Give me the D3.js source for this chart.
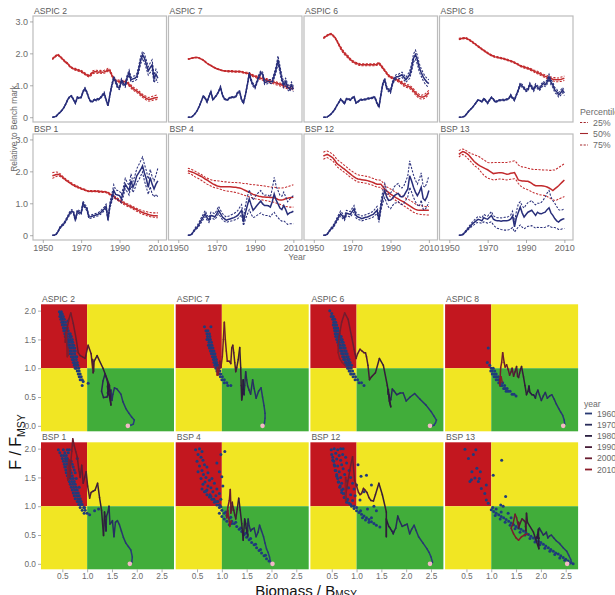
<!DOCTYPE html>
<html><head><meta charset="utf-8">
<script src="https://cdn.jsdelivr.net/npm/d3@7"></script>
<style>body{margin:0;background:#fff}svg{display:block;font-family:"Liberation Sans",Arial,Helvetica,sans-serif}</style>
</head><body><svg id="c" width="615" height="595"></svg>
<script>
// ---------------- DATA ----------------
const years=[1955,1956,1957,1958,1959,1960,1961,1962,1963,1964,1965,1966,1967,1968,1969,1970,1971,1972,1973,1974,1975,1976,1977,1978,1979,1980,1981,1982,1983,1984,1985,1986,1987,1988,1989,1990,1991,1992,1993,1994,1995,1996,1997,1998,1999,2000,2001,2002,2003,2004,2005,2006,2007,2008,2009,2010];
const panelNames=["ASPIC 2","ASPIC 7","ASPIC 6","ASPIC 8","BSP 1","BSP 4","BSP 12","BSP 13"];
const percentiles=["25%","50%","75%"];
const legendYears=[1960,1970,1980,1990,2000,2010];
const topYTicks=[0,1,2,3];
const topXTicks=[1950,1970,1990,2010];
const botXTicks=[0.5,1.0,1.5,2.0,2.5];
const botYTicks=[0,0.5,1.0,1.5,2.0];

// ASPIC 2
const b50_A2=[1.82,1.88,1.93,1.95,1.90, 1.84,1.78,1.72,1.68,1.60,1.55,1.52,1.50,1.48,1.46, 1.44,1.40,1.36,1.32,1.29,1.33,1.40,1.42,1.42,1.41, 1.42,1.41,1.42,1.44,1.48,1.45,1.32,1.20,1.14,1.13, 1.12,1.11,1.12,1.11,1.08,1.02,0.96,0.90,0.86,0.82, 0.78,0.72,0.67,0.63,0.59,0.56,0.56,0.58,0.60,0.61,0.62];
const b25_A2=[1.80,1.86,1.91,1.93,1.88, 1.82,1.76,1.70,1.66,1.58,1.53,1.50,1.47,1.45,1.43, 1.41,1.37,1.33,1.29,1.26,1.29,1.36,1.38,1.38,1.37, 1.38,1.37,1.38,1.40,1.44,1.41,1.28,1.16,1.10,1.09, 1.08,1.07,1.08,1.06,1.03,0.97,0.91,0.85,0.81,0.77, 0.73,0.67,0.62,0.58,0.54,0.51,0.51,0.52,0.54,0.55,0.56];
const b75_A2=[1.84,1.90,1.95,1.97,1.92, 1.86,1.80,1.74,1.70,1.62,1.57,1.54,1.53,1.51,1.49, 1.47,1.43,1.39,1.35,1.32,1.37,1.45,1.47,1.47,1.46, 1.47,1.46,1.47,1.49,1.53,1.50,1.36,1.24,1.18,1.17, 1.16,1.15,1.16,1.16,1.13,1.07,1.01,0.95,0.91,0.87, 0.83,0.77,0.72,0.68,0.65,0.62,0.63,0.65,0.67,0.69,0.70];
const f50_A2=[0.00,0.01,0.03,0.10,0.15, 0.22,0.30,0.42,0.55,0.64,0.66,0.55,0.44,0.62,0.60, 0.62,0.80,0.90,0.78,0.60,0.49,0.50,0.55,0.54,0.57, 0.60,0.68,0.75,0.55,0.36,0.70,1.00,1.22,1.12,0.95, 0.92,1.15,1.05,1.00,1.25,1.40,1.17,1.20,1.22,1.27, 1.50,1.78,1.96,1.85,1.65,1.45,1.55,1.64,1.20,1.35,1.22];
const f25_A2=[0.00,0.01,0.02,0.09,0.14, 0.21,0.29,0.40,0.53,0.62,0.64,0.53,0.42,0.60,0.58, 0.60,0.77,0.87,0.75,0.58,0.47,0.48,0.53,0.51,0.54, 0.57,0.65,0.71,0.52,0.34,0.66,0.95,1.16,1.06,0.90, 0.87,1.09,0.99,0.94,1.18,1.32,1.10,1.12,1.14,1.18, 1.40,1.66,1.84,1.72,1.52,1.32,1.40,1.48,1.08,1.20,1.08];
const f75_A2=[0.00,0.01,0.04,0.11,0.16, 0.23,0.31,0.44,0.57,0.66,0.68,0.57,0.46,0.64,0.62, 0.64,0.83,0.93,0.81,0.62,0.51,0.52,0.57,0.57,0.60, 0.63,0.71,0.79,0.58,0.38,0.74,1.05,1.28,1.18,1.00, 0.97,1.21,1.11,1.06,1.32,1.48,1.24,1.28,1.30,1.36, 1.60,1.90,2.06,1.98,1.78,1.58,1.70,1.80,1.32,1.50,1.36];
// ASPIC 7
const b50_A7=[1.82,1.83,1.85,1.86,1.87, 1.87,1.85,1.82,1.79,1.74,1.69,1.65,1.62,1.58,1.55, 1.52,1.50,1.48,1.46,1.45,1.45,1.44,1.44,1.44,1.43, 1.43,1.43,1.43,1.42,1.40,1.39,1.38,1.36,1.33,1.30, 1.28,1.26,1.24,1.22,1.20,1.18,1.17,1.15,1.13,1.11, 1.09,1.07,1.05,1.03,1.01,0.98,0.96,0.94,0.92,0.91,0.90];
const b25_A7=[1.81,1.82,1.84,1.85,1.86, 1.86,1.84,1.81,1.78,1.73,1.68,1.64,1.61,1.57,1.54, 1.51,1.49,1.47,1.45,1.44,1.43,1.42,1.42,1.42,1.41, 1.41,1.41,1.41,1.40,1.38,1.37,1.35,1.33,1.30,1.27, 1.25,1.22,1.20,1.18,1.16,1.14,1.12,1.10,1.08,1.06, 1.04,1.02,1.00,0.98,0.96,0.93,0.91,0.89,0.87,0.86,0.85];
const b75_A7=[1.83,1.84,1.86,1.87,1.88, 1.88,1.86,1.83,1.80,1.75,1.70,1.66,1.63,1.59,1.56, 1.53,1.51,1.49,1.47,1.46,1.46,1.46,1.46,1.46,1.45, 1.45,1.45,1.45,1.44,1.42,1.41,1.41,1.39,1.36,1.33, 1.31,1.29,1.28,1.26,1.24,1.22,1.21,1.19,1.17,1.15, 1.13,1.11,1.09,1.07,1.05,1.03,1.01,0.99,0.97,0.96,0.95];
const f50_A7=[0.00,0.00,0.01,0.06,0.13, 0.22,0.35,0.50,0.66,0.60,0.48,0.65,0.80,0.55,0.62, 0.69,0.80,0.94,0.70,0.58,0.54,0.56,0.62,0.62,0.63, 0.64,0.78,0.80,0.55,0.45,0.70,1.01,1.36,1.15,1.01, 0.94,1.10,1.27,1.40,1.35,1.08,1.10,1.12,1.12,1.12, 1.30,1.50,1.80,1.50,1.20,1.01,1.12,0.95,0.88,1.01,0.88];
const f25_A7=[0.00,0.00,0.01,0.05,0.12, 0.21,0.34,0.49,0.64,0.58,0.46,0.63,0.78,0.53,0.60, 0.67,0.78,0.91,0.68,0.56,0.52,0.54,0.60,0.60,0.61, 0.62,0.75,0.77,0.52,0.42,0.67,0.97,1.31,1.10,0.96, 0.89,1.05,1.21,1.34,1.29,1.02,1.04,1.06,1.06,1.05, 1.22,1.41,1.68,1.39,1.10,0.92,1.02,0.86,0.80,0.92,0.80];
const f75_A7=[0.00,0.00,0.01,0.07,0.14, 0.23,0.36,0.51,0.68,0.62,0.50,0.67,0.82,0.57,0.64, 0.71,0.82,0.97,0.72,0.60,0.56,0.58,0.64,0.64,0.65, 0.66,0.81,0.83,0.58,0.48,0.73,1.05,1.41,1.20,1.06, 0.99,1.15,1.33,1.46,1.41,1.14,1.16,1.18,1.18,1.19, 1.38,1.60,1.92,1.61,1.30,1.10,1.22,1.04,0.96,1.10,0.96];
// ASPIC 6
const b50_A6=[2.48,2.52,2.56,2.59,2.61, 2.56,2.50,2.40,2.28,2.17,2.08,2.00,1.94,1.88,1.81, 1.76,1.72,1.69,1.67,1.65,1.64,1.64,1.64,1.64,1.64, 1.64,1.64,1.64,1.66,1.69,1.62,1.54,1.46,1.38,1.30, 1.26,1.23,1.20,1.18,1.15,1.11,1.07,1.02,0.99,0.97, 0.95,0.90,0.83,0.76,0.70,0.65,0.63,0.63,0.66,0.71,0.77];
const b25_A6=[2.46,2.50,2.54,2.57,2.59, 2.54,2.48,2.38,2.25,2.13,2.04,1.96,1.90,1.84,1.78, 1.73,1.69,1.66,1.64,1.62,1.61,1.61,1.61,1.61,1.61, 1.61,1.61,1.61,1.63,1.66,1.59,1.51,1.43,1.35,1.27, 1.23,1.20,1.17,1.14,1.11,1.07,1.03,0.97,0.94,0.92, 0.90,0.85,0.77,0.70,0.64,0.59,0.57,0.57,0.60,0.65,0.71];
const b75_A6=[2.50,2.54,2.58,2.61,2.63, 2.58,2.52,2.42,2.31,2.21,2.12,2.04,1.98,1.92,1.84, 1.79,1.75,1.72,1.70,1.68,1.67,1.67,1.67,1.67,1.67, 1.67,1.67,1.67,1.69,1.72,1.65,1.57,1.49,1.41,1.33, 1.29,1.26,1.23,1.22,1.19,1.15,1.11,1.07,1.04,1.02, 1.00,0.95,0.89,0.82,0.76,0.71,0.69,0.70,0.73,0.78,0.84];
const f50_A6=[0.00,0.00,0.01,0.05,0.10, 0.17,0.25,0.36,0.46,0.56,0.50,0.43,0.57,0.57,0.54, 0.60,0.64,0.45,0.48,0.54,0.55,0.55,0.56,0.58,0.59, 0.59,0.63,0.60,0.43,0.33,0.70,1.05,1.17,0.92,0.85, 0.80,1.05,1.20,1.27,1.27,1.30,1.33,1.25,1.17,1.25, 1.33,1.55,1.85,1.96,1.80,1.55,1.40,1.27,1.17,1.10,1.05];
const f25_A6=[0.00,0.00,0.01,0.04,0.09, 0.16,0.24,0.35,0.45,0.54,0.48,0.41,0.55,0.55,0.52, 0.58,0.62,0.43,0.46,0.52,0.53,0.53,0.54,0.56,0.57, 0.57,0.60,0.57,0.40,0.30,0.66,1.00,1.12,0.87,0.80, 0.75,0.99,1.14,1.20,1.20,1.22,1.25,1.17,1.09,1.16, 1.22,1.43,1.72,1.82,1.66,1.42,1.28,1.15,1.05,0.98,0.93];
const f75_A6=[0.00,0.00,0.01,0.06,0.11, 0.18,0.26,0.37,0.47,0.58,0.52,0.45,0.59,0.59,0.56, 0.62,0.66,0.47,0.50,0.56,0.57,0.57,0.58,0.60,0.61, 0.61,0.66,0.63,0.46,0.36,0.74,1.10,1.22,0.97,0.90, 0.85,1.11,1.26,1.34,1.34,1.38,1.41,1.33,1.25,1.34, 1.44,1.67,1.98,2.10,1.94,1.68,1.52,1.39,1.29,1.22,1.17];
// ASPIC 8
const b50_A8=[2.45,2.46,2.47,2.48,2.47, 2.44,2.40,2.36,2.31,2.27,2.22,2.18,2.13,2.09,2.05, 2.01,1.97,1.94,1.91,1.89,1.88,1.86,1.85,1.84,1.82, 1.80,1.78,1.76,1.74,1.71,1.68,1.65,1.61,1.59,1.57, 1.55,1.53,1.51,1.48,1.45,1.42,1.40,1.37,1.34,1.31, 1.28,1.26,1.23,1.21,1.19,1.18,1.17,1.17,1.18,1.20,1.22];
const b25_A8=[2.43,2.44,2.45,2.46,2.45, 2.42,2.38,2.34,2.29,2.25,2.20,2.16,2.11,2.07,2.03, 1.99,1.95,1.92,1.89,1.87,1.86,1.84,1.83,1.82,1.80, 1.78,1.76,1.74,1.72,1.69,1.66,1.63,1.59,1.56,1.54, 1.52,1.50,1.48,1.45,1.42,1.38,1.36,1.33,1.30,1.27, 1.24,1.21,1.18,1.16,1.14,1.12,1.11,1.11,1.12,1.13,1.15];
const b75_A8=[2.47,2.48,2.49,2.50,2.49, 2.46,2.42,2.38,2.33,2.29,2.24,2.20,2.15,2.11,2.07, 2.03,1.99,1.96,1.93,1.91,1.90,1.88,1.87,1.86,1.84, 1.82,1.80,1.78,1.76,1.73,1.70,1.67,1.63,1.62,1.60, 1.58,1.56,1.54,1.51,1.48,1.46,1.44,1.41,1.38,1.35, 1.32,1.31,1.28,1.26,1.24,1.24,1.23,1.23,1.25,1.27,1.29];
const f50_A8=[0.00,0.00,0.01,0.03,0.10, 0.18,0.24,0.30,0.38,0.46,0.54,0.52,0.48,0.58,0.52, 0.44,0.54,0.62,0.56,0.48,0.50,0.53,0.54,0.54,0.54, 0.56,0.58,0.69,0.60,0.54,0.70,0.85,1.03,0.98,0.91, 0.84,0.86,1.03,0.94,0.86,1.00,0.94,0.88,0.98,1.06, 1.02,1.10,1.27,1.10,1.01,0.85,0.80,0.70,0.76,0.85,0.76];
const f25_A8=[0.00,0.00,0.01,0.02,0.09, 0.17,0.23,0.29,0.37,0.45,0.53,0.51,0.47,0.56,0.50, 0.42,0.52,0.60,0.54,0.46,0.48,0.51,0.52,0.52,0.52, 0.54,0.56,0.66,0.57,0.51,0.67,0.81,0.98,0.93,0.87, 0.80,0.82,0.98,0.89,0.81,0.95,0.89,0.83,0.92,1.00, 0.96,1.03,1.19,1.02,0.93,0.77,0.72,0.63,0.68,0.77,0.68];
const f75_A8=[0.00,0.00,0.01,0.04,0.11, 0.19,0.25,0.31,0.39,0.47,0.55,0.53,0.49,0.60,0.54, 0.46,0.56,0.64,0.58,0.50,0.52,0.55,0.56,0.56,0.56, 0.58,0.60,0.72,0.63,0.57,0.73,0.89,1.08,1.03,0.95, 0.88,0.90,1.08,0.99,0.91,1.05,0.99,0.93,1.04,1.12, 1.08,1.17,1.35,1.18,1.09,0.93,0.88,0.77,0.84,0.93,0.84];
// BSP 1
const b50_B1=[1.86,1.88,1.90,1.91,1.88, 1.83,1.78,1.73,1.69,1.65,1.61,1.57,1.54,1.51,1.49, 1.46,1.44,1.42,1.39,1.38,1.38,1.38,1.38,1.38,1.37, 1.37,1.36,1.36,1.35,1.33,1.29,1.25,1.21,1.16,1.12, 1.08,1.05,1.01,0.98,0.95,0.92,0.89,0.86,0.83,0.80, 0.77,0.74,0.71,0.69,0.67,0.65,0.63,0.62,0.61,0.61,0.60];
const b25_B1=[1.78,1.81,1.84,1.86,1.84, 1.80,1.76,1.71,1.67,1.63,1.59,1.55,1.52,1.49,1.47, 1.44,1.42,1.40,1.37,1.36,1.36,1.36,1.36,1.36,1.35, 1.35,1.34,1.34,1.33,1.31,1.26,1.22,1.18,1.13,1.09, 1.05,1.01,0.97,0.94,0.91,0.88,0.85,0.82,0.78,0.75, 0.72,0.69,0.66,0.64,0.62,0.60,0.58,0.57,0.56,0.55,0.55];
const b75_B1=[1.96,1.97,1.98,1.97,1.93, 1.87,1.81,1.76,1.72,1.68,1.64,1.60,1.57,1.54,1.51, 1.48,1.46,1.44,1.41,1.40,1.40,1.40,1.40,1.40,1.39, 1.39,1.38,1.38,1.37,1.35,1.31,1.28,1.24,1.20,1.16, 1.12,1.09,1.05,1.02,0.99,0.96,0.93,0.90,0.87,0.84, 0.82,0.79,0.77,0.75,0.74,0.72,0.71,0.70,0.70,0.70,0.70];
const f50_B1=[0.00,0.00,0.03,0.12,0.24, 0.30,0.36,0.46,0.57,0.68,0.75,0.72,0.47,0.75,0.72, 0.69,1.00,0.90,0.83,0.57,0.58,0.60,0.62,0.64,0.66, 0.70,0.76,0.82,0.90,0.49,0.93,1.15,1.40,1.28,1.26, 1.24,1.14,1.35,1.60,1.50,1.40,1.71,1.50,1.65,1.86, 1.95,2.05,2.17,1.95,1.76,1.50,1.81,1.60,1.45,1.60,1.70];
const f25_B1=[0.00,0.00,0.02,0.10,0.21, 0.27,0.33,0.42,0.53,0.63,0.70,0.67,0.43,0.70,0.67, 0.64,0.94,0.84,0.77,0.52,0.53,0.55,0.57,0.59,0.61, 0.65,0.70,0.76,0.83,0.44,0.85,1.05,1.26,1.15,1.12, 1.08,1.02,1.22,1.45,1.36,1.26,1.54,1.34,1.46,1.66, 1.72,1.85,1.98,1.70,1.50,1.28,1.52,1.30,1.20,1.28,1.20];
const f75_B1=[0.00,0.00,0.04,0.14,0.27, 0.33,0.39,0.50,0.61,0.73,0.80,0.77,0.51,0.80,0.77, 0.74,1.07,0.96,0.89,0.62,0.63,0.65,0.67,0.69,0.71, 0.76,0.82,0.88,0.97,0.55,1.02,1.28,1.58,1.42,1.40, 1.38,1.28,1.50,1.78,1.66,1.56,1.92,1.68,1.86,2.08, 2.20,2.32,2.45,2.22,2.02,1.76,2.06,1.84,1.70,1.88,2.10];
// BSP 4
const b50_B4=[2.02,2.00,1.98,1.96,1.93, 1.90,1.87,1.84,1.80,1.76,1.73,1.69,1.65,1.61,1.58, 1.55,1.53,1.52,1.52,1.52,1.52,1.52,1.52,1.51,1.50, 1.50,1.49,1.48,1.46,1.43,1.40,1.37,1.34,1.31,1.28, 1.26,1.24,1.22,1.21,1.20,1.20,1.19,1.19,1.18,1.18, 1.17,1.15,1.12,1.10,1.10,1.12,1.14,1.16,1.17,1.18,1.19];
const b25_B4=[1.95,1.93,1.90,1.86,1.82, 1.79,1.76,1.72,1.68,1.64,1.60,1.57,1.54,1.51,1.49, 1.48,1.46,1.44,1.42,1.40,1.39,1.38,1.37,1.36,1.35, 1.34,1.32,1.30,1.28,1.26,1.24,1.22,1.20,1.18,1.16, 1.14,1.13,1.12,1.11,1.10,1.09,1.08,1.07,1.05,1.04, 1.03,1.01,0.99,0.97,0.94,0.91,0.90,0.89,0.88,0.88,0.88];
const b75_B4=[2.10,2.08,2.06,2.03,2.00, 1.96,1.93,1.90,1.86,1.82,1.79,1.76,1.74,1.72,1.71, 1.71,1.70,1.69,1.68,1.67,1.67,1.66,1.66,1.65,1.65, 1.65,1.64,1.64,1.63,1.62,1.62,1.61,1.60,1.59,1.58, 1.58,1.57,1.56,1.56,1.55,1.54,1.53,1.52,1.51,1.50, 1.50,1.49,1.48,1.48,1.48,1.49,1.50,1.52,1.54,1.56,1.58];
const f50_B4=[0.00,0.00,0.03,0.12,0.20, 0.26,0.36,0.47,0.57,0.67,0.55,0.47,0.62,0.60,0.57, 0.66,0.78,0.68,0.57,0.52,0.47,0.49,0.51,0.53,0.55, 0.58,0.62,0.70,0.78,0.41,0.70,0.93,1.14,0.95,0.78, 0.85,0.93,1.00,1.07,0.98,0.93,0.93,0.92,0.88,1.05, 1.29,1.10,0.98,0.85,0.80,0.93,0.80,0.65,0.70,0.72,0.75];
const f25_B4=[0.00,0.00,0.02,0.10,0.17, 0.22,0.30,0.40,0.49,0.58,0.47,0.40,0.53,0.52,0.49, 0.57,0.67,0.58,0.49,0.44,0.40,0.42,0.44,0.45,0.47, 0.49,0.52,0.58,0.64,0.30,0.50,0.65,0.80,0.66,0.55, 0.58,0.62,0.66,0.70,0.65,0.62,0.62,0.62,0.58,0.66, 0.72,0.62,0.55,0.48,0.44,0.45,0.40,0.34,0.36,0.36,0.36];
const f75_B4=[0.00,0.00,0.04,0.15,0.25, 0.32,0.43,0.55,0.66,0.77,0.64,0.55,0.72,0.70,0.67, 0.77,0.90,0.79,0.68,0.62,0.57,0.59,0.62,0.65,0.68, 0.72,0.77,0.87,0.96,0.55,0.92,1.20,1.42,1.25,1.10, 1.20,1.28,1.35,1.40,1.30,1.25,1.26,1.25,1.20,1.45, 1.81,1.55,1.40,1.25,1.22,1.35,1.20,1.05,1.12,1.18,1.24];
// BSP 12
const b50_B12=[2.48,2.51,2.53,2.50,2.46, 2.42,2.34,2.25,2.20,2.16,2.11,2.07,2.02,1.97,1.92, 1.87,1.83,1.79,1.76,1.75,1.74,1.73,1.72,1.71,1.69, 1.67,1.65,1.62,1.60,1.60,1.60,1.52,1.45,1.38,1.34, 1.29,1.25,1.21,1.17,1.14,1.10,1.07,1.04,1.00,0.96, 0.92,0.88,0.84,0.81,0.79,0.78,0.78,0.78,0.78,0.78,0.78];
const b25_B12=[2.38,2.41,2.43,2.40,2.36, 2.32,2.24,2.15,2.10,2.06,2.01,1.97,1.92,1.87,1.82, 1.78,1.74,1.70,1.67,1.66,1.65,1.64,1.63,1.62,1.60, 1.58,1.56,1.53,1.51,1.50,1.50,1.42,1.35,1.29,1.25, 1.20,1.16,1.12,1.08,1.04,1.00,0.96,0.92,0.88,0.84, 0.80,0.76,0.72,0.69,0.67,0.66,0.65,0.64,0.64,0.63,0.63];
const b75_B12=[2.60,2.63,2.64,2.61,2.57, 2.53,2.46,2.38,2.33,2.29,2.24,2.19,2.14,2.09,2.04, 2.00,1.96,1.92,1.89,1.88,1.87,1.86,1.85,1.84,1.82, 1.80,1.78,1.75,1.73,1.73,1.72,1.65,1.58,1.52,1.48, 1.45,1.41,1.37,1.33,1.30,1.26,1.23,1.19,1.16,1.13, 1.10,1.06,1.02,0.98,0.95,0.93,0.92,0.91,0.90,0.90,0.90];
const f50_B12=[0.00,0.00,0.03,0.12,0.20, 0.26,0.36,0.47,0.58,0.67,0.60,0.52,0.69,0.67,0.65, 0.74,0.83,0.62,0.57,0.55,0.52,0.54,0.56,0.57,0.60, 0.63,0.65,0.72,0.78,0.47,0.90,1.20,1.40,1.20,1.09, 1.10,1.15,1.24,1.28,1.31,1.22,1.20,1.24,1.35,1.45, 1.86,1.70,1.50,1.35,1.24,1.35,1.50,1.15,1.09,1.20,1.40];
const f25_B12=[0.00,0.00,0.02,0.10,0.17, 0.22,0.32,0.42,0.52,0.60,0.53,0.46,0.61,0.59,0.57, 0.65,0.73,0.54,0.50,0.48,0.45,0.47,0.49,0.50,0.52, 0.55,0.57,0.63,0.68,0.40,0.78,1.02,1.18,1.00,0.88, 0.83,0.92,1.00,1.02,1.05,0.98,0.96,1.00,1.10,1.20, 1.50,1.35,1.18,1.05,0.95,0.90,1.10,0.82,0.80,0.90,1.03];
const f75_B12=[0.00,0.00,0.04,0.14,0.23, 0.30,0.41,0.53,0.65,0.76,0.68,0.59,0.78,0.76,0.74, 0.84,0.93,0.71,0.65,0.63,0.60,0.62,0.64,0.66,0.69, 0.72,0.75,0.83,0.90,0.55,1.05,1.38,1.62,1.40,1.28, 1.32,1.40,1.52,1.58,1.62,1.50,1.48,1.55,1.70,1.85, 2.33,2.10,1.88,1.72,1.60,1.75,1.95,1.55,1.50,1.65,1.86];
// BSP 13
const b50_B13=[2.53,2.58,2.62,2.60,2.56, 2.52,2.45,2.38,2.31,2.26,2.21,2.17,2.14,2.11,2.08, 2.05,2.01,1.97,1.93,1.94,1.95,1.96,1.96,1.95,1.93, 1.91,1.92,1.94,1.95,1.96,1.85,1.73,1.71,1.70,1.70, 1.69,1.69,1.66,1.62,1.58,1.55,1.55,1.55,1.55,1.54, 1.53,1.51,1.48,1.44,1.40,1.45,1.50,1.55,1.61,1.67,1.73];
const b25_B13=[2.45,2.50,2.53,2.50,2.44, 2.38,2.32,2.25,2.18,2.14,2.10,2.02,1.95,1.88,1.83, 1.79,1.77,1.75,1.73,1.74,1.75,1.76,1.76,1.75,1.74, 1.73,1.74,1.75,1.76,1.77,1.72,1.62,1.55,1.50,1.47, 1.45,1.42,1.39,1.36,1.33,1.31,1.29,1.27,1.26,1.25, 1.24,1.21,1.18,1.14,1.11,1.09,1.10,1.13,1.16,1.18,1.21];
const b75_B13=[2.65,2.68,2.70,2.68,2.64, 2.60,2.57,2.54,2.52,2.50,2.48,2.44,2.40,2.36,2.32, 2.28,2.27,2.27,2.28,2.28,2.28,2.28,2.28,2.28,2.28, 2.28,2.29,2.30,2.32,2.33,2.28,2.20,2.16,2.14,2.13, 2.12,2.10,2.08,2.07,2.06,2.06,2.06,2.05,2.05,2.04, 2.04,2.04,2.03,2.03,2.04,2.04,2.08,2.12,2.16,2.20,2.24];
const f50_B13=[0.00,0.00,0.02,0.08,0.15, 0.22,0.28,0.35,0.40,0.45,0.50,0.48,0.45,0.55,0.52, 0.50,0.56,0.62,0.50,0.47,0.45,0.45,0.44,0.45,0.45, 0.45,0.47,0.50,0.60,0.26,0.55,0.72,0.88,0.70,0.57, 0.65,0.72,0.75,0.78,0.70,0.62,0.72,0.68,0.67,0.70, 0.72,0.80,0.86,0.70,0.62,0.52,0.45,0.41,0.47,0.50,0.52];
const f25_B13=[0.00,0.00,0.01,0.06,0.12, 0.18,0.23,0.29,0.33,0.38,0.40,0.39,0.37,0.42,0.40, 0.38,0.40,0.42,0.32,0.26,0.22,0.20,0.18,0.17,0.16, 0.16,0.17,0.20,0.24,0.10,0.18,0.26,0.32,0.25,0.20, 0.24,0.28,0.28,0.30,0.26,0.22,0.25,0.24,0.24,0.24, 0.25,0.28,0.30,0.26,0.24,0.24,0.22,0.18,0.18,0.20,0.21];
const f75_B13=[0.00,0.00,0.03,0.10,0.18, 0.26,0.33,0.41,0.47,0.53,0.59,0.57,0.54,0.65,0.62, 0.60,0.67,0.74,0.61,0.57,0.55,0.55,0.54,0.55,0.56, 0.56,0.59,0.63,0.75,0.40,0.75,0.98,1.05,0.92,0.85, 0.95,1.02,1.05,1.09,1.00,0.95,1.00,1.00,1.03,1.10, 1.20,1.32,1.40,1.20,1.08,1.00,0.90,0.80,0.78,0.80,0.83];

// Final-year estimates (B/Bmsy, F/Fmsy) for the Kobe panels
const cloud_A2=[[0.44,1.98],[0.48,1.98],[0.46,1.94],[0.50,1.94],[0.48,1.90],[0.52,1.90],[0.45,1.90],[0.50,1.85],[0.54,1.85],[0.47,1.85],[0.52,1.80],[0.56,1.80],[0.49,1.80],[0.53,1.75],[0.58,1.75],[0.50,1.75],[0.55,1.70],[0.60,1.70],[0.52,1.70],[0.57,1.65],[0.62,1.65],[0.53,1.65],[0.58,1.60],[0.63,1.60],[0.55,1.60],[0.66,1.60],[0.60,1.55],[0.65,1.55],[0.56,1.55],[0.68,1.55],[0.62,1.50],[0.66,1.50],[0.58,1.50],[0.70,1.50],[0.63,1.45],[0.68,1.45],[0.60,1.45],[0.71,1.45],[0.65,1.40],[0.70,1.40],[0.61,1.40],[0.73,1.40],[0.67,1.35],[0.71,1.35],[0.63,1.35],[0.75,1.35],[0.68,1.30],[0.73,1.30],[0.65,1.30],[0.76,1.30],[0.70,1.25],[0.75,1.25],[0.66,1.25],[0.72,1.20],[0.76,1.20],[0.68,1.20],[0.79,1.20],[0.73,1.15],[0.78,1.15],[0.70,1.15],[0.75,1.10],[0.80,1.10],[0.72,1.10],[0.77,1.05],[0.81,1.05],[0.74,1.05],[0.78,1.00],[0.83,1.00],[0.76,1.00],[0.80,0.95],[0.84,0.95],[0.82,0.90],[0.86,0.90],[0.84,0.85],[0.88,0.85],[0.86,0.80],[0.90,0.80],[0.92,0.77],[1.02,0.74],[0.90,0.70],[0.61,1.82]];
const cloud_A7=[[0.65,1.72],[0.78,1.72],[0.68,1.65],[0.72,1.65],[0.70,1.60],[0.75,1.60],[0.71,1.55],[0.76,1.55],[0.73,1.50],[0.77,1.50],[0.70,1.50],[0.74,1.45],[0.79,1.45],[0.76,1.40],[0.80,1.40],[0.73,1.40],[0.78,1.35],[0.82,1.35],[0.75,1.35],[0.80,1.30],[0.84,1.30],[0.77,1.30],[0.82,1.25],[0.86,1.25],[0.79,1.25],[0.84,1.20],[0.87,1.20],[0.81,1.20],[0.85,1.15],[0.89,1.15],[0.83,1.15],[0.87,1.10],[0.90,1.10],[0.84,1.10],[0.89,1.05],[0.92,1.05],[0.86,1.05],[0.90,1.00],[0.94,1.00],[0.88,1.00],[0.92,0.95],[0.96,0.95],[0.90,0.95],[0.95,0.90],[0.98,0.90],[0.97,0.85],[1.01,0.85],[1.00,0.80],[1.05,0.80],[1.05,0.75],[1.10,0.75],[1.12,0.70],[1.18,0.70]];
const cloud_A6=[[0.46,2.00],[0.50,1.95],[0.53,1.90],[0.49,1.90],[0.52,1.85],[0.56,1.85],[0.54,1.80],[0.58,1.80],[0.56,1.75],[0.60,1.75],[0.53,1.75],[0.58,1.70],[0.62,1.70],[0.55,1.70],[0.59,1.65],[0.63,1.65],[0.56,1.65],[0.60,1.60],[0.65,1.60],[0.57,1.60],[0.62,1.55],[0.66,1.55],[0.58,1.55],[0.69,1.55],[0.63,1.50],[0.68,1.50],[0.60,1.50],[0.71,1.50],[0.65,1.45],[0.70,1.45],[0.62,1.45],[0.73,1.45],[0.67,1.40],[0.72,1.40],[0.64,1.40],[0.75,1.40],[0.69,1.35],[0.74,1.35],[0.66,1.35],[0.77,1.35],[0.71,1.30],[0.76,1.30],[0.68,1.30],[0.79,1.30],[0.73,1.25],[0.78,1.25],[0.70,1.25],[0.81,1.25],[0.75,1.20],[0.80,1.20],[0.72,1.20],[0.83,1.20],[0.77,1.15],[0.82,1.15],[0.74,1.15],[0.85,1.15],[0.80,1.10],[0.84,1.10],[0.77,1.10],[0.87,1.10],[0.82,1.05],[0.86,1.05],[0.79,1.05],[0.90,1.05],[0.84,1.00],[0.89,1.00],[0.82,1.00],[0.87,0.95],[0.92,0.95],[0.85,0.95],[0.90,0.90],[0.95,0.90],[0.88,0.90],[0.93,0.85],[0.98,0.85],[0.97,0.80],[1.02,0.80],[1.05,0.75],[1.10,0.75],[1.15,0.70]];
const cloud_A8=[[0.94,1.35],[0.92,1.10],[0.97,1.05],[1.00,1.00],[1.04,1.00],[1.02,0.95],[1.07,0.95],[0.99,0.95],[1.06,0.90],[1.10,0.90],[1.02,0.90],[1.10,0.85],[1.14,0.85],[1.06,0.85],[1.14,0.80],[1.18,0.80],[1.10,0.80],[1.18,0.75],[1.23,0.75],[1.15,0.75],[1.22,0.70],[1.27,0.70],[1.19,0.70],[1.28,0.65],[1.32,0.65],[1.25,0.65],[1.34,0.60],[1.38,0.60],[1.30,0.60],[1.42,0.55],[1.46,0.55],[1.50,0.52]];
const cloud_B1=[[0.42,1.98],[0.52,1.98],[0.60,1.98],[0.64,1.98],[0.45,1.93],[0.55,1.93],[0.62,1.93],[0.48,1.88],[0.58,1.88],[0.53,1.88],[0.50,1.83],[0.60,1.83],[0.56,1.83],[0.80,1.83],[0.52,1.78],[0.62,1.78],[0.57,1.78],[0.68,1.78],[0.54,1.73],[0.63,1.73],[0.59,1.73],[0.70,1.73],[0.55,1.68],[0.65,1.68],[0.60,1.68],[0.72,1.68],[0.57,1.63],[0.66,1.63],[0.62,1.63],[0.74,1.63],[0.58,1.58],[0.68,1.58],[0.63,1.58],[0.76,1.58],[0.60,1.53],[0.70,1.53],[0.65,1.53],[0.62,1.48],[0.72,1.48],[0.67,1.48],[0.78,1.48],[0.64,1.43],[0.74,1.43],[0.69,1.43],[0.66,1.38],[0.76,1.38],[0.71,1.38],[0.68,1.33],[0.78,1.33],[0.73,1.33],[0.84,1.33],[0.70,1.28],[0.80,1.28],[0.75,1.28],[0.72,1.23],[0.82,1.23],[0.77,1.23],[0.74,1.18],[0.84,1.18],[0.79,1.18],[0.76,1.13],[0.86,1.13],[0.81,1.13],[0.80,1.08],[0.88,1.08],[0.84,1.08],[0.83,1.03],[0.90,1.03],[0.87,1.03],[0.86,0.98],[0.93,0.98],[0.95,0.98],[0.90,0.93],[0.96,0.93],[0.94,0.88],[1.00,0.88],[1.05,0.85],[1.23,0.95],[1.15,0.92]];
const cloud_B4=[[0.47,1.98],[0.55,2.00],[0.60,1.95],[0.52,1.90],[0.58,1.85],[0.50,1.78],[0.62,1.80],[0.55,1.70],[0.65,1.72],[0.60,1.62],[0.70,1.68],[0.52,1.60],[0.63,1.55],[0.72,1.58],[0.68,1.50],[0.58,1.48],[0.75,1.45],[0.66,1.42],[0.80,1.48],[0.72,1.35],[0.62,1.38],[0.78,1.32],[0.85,1.40],[0.70,1.28],[0.82,1.25],[0.90,1.30],[0.76,1.20],[0.88,1.18],[0.95,1.22],[0.84,1.12],[0.92,1.08],[0.98,1.12],[0.95,1.02],[1.06,1.95],[1.00,1.51],[1.02,1.35],[0.98,1.90],[0.90,1.75],[0.95,1.60],[0.60,1.30],[0.65,1.25],[0.70,1.20],[0.75,1.16],[0.80,1.12],[0.85,1.07],[0.90,1.02],[0.95,0.98],[1.00,0.93],[1.05,0.88],[1.10,0.84],[1.15,0.79],[1.20,0.74],[1.25,0.70],[1.30,0.65],[1.35,0.60],[1.40,0.56],[1.45,0.51],[1.50,0.46],[1.55,0.42],[1.60,0.37],[1.65,0.33],[1.70,0.28],[1.75,0.23],[1.80,0.19],[1.85,0.14],[1.90,0.09],[1.95,0.05],[2.00,0.01],[0.68,1.26],[0.78,1.17],[0.88,1.08],[0.98,0.99],[1.08,0.90],[1.18,0.81],[1.28,0.72],[1.38,0.62],[1.48,0.53],[1.58,0.44],[1.68,0.34],[1.78,0.25],[1.88,0.15],[1.00,0.82],[1.10,0.74],[1.20,0.70],[0.95,0.88],[1.05,0.78],[1.15,0.68]];
const cloud_B12=[[0.49,1.98],[0.55,2.00],[0.62,1.98],[0.68,2.00],[0.73,2.00],[0.50,1.90],[0.58,1.92],[0.65,1.88],[0.72,1.90],[0.52,1.80],[0.60,1.82],[0.68,1.80],[0.78,1.85],[0.55,1.72],[0.62,1.70],[0.70,1.72],[0.80,1.75],[0.57,1.62],[0.65,1.60],[0.73,1.65],[0.85,1.62],[0.60,1.52],[0.68,1.50],[0.76,1.55],[0.88,1.50],[0.63,1.42],[0.70,1.40],[0.80,1.44],[0.92,1.40],[0.66,1.33],[0.73,1.30],[0.84,1.32],[0.95,1.30],[0.70,1.24],[0.77,1.22],[0.88,1.20],[0.97,1.18],[0.75,1.15],[0.82,1.12],[0.92,1.10],[0.80,1.07],[0.88,1.03],[0.95,1.00],[0.52,1.85],[0.54,1.78],[0.56,1.70],[0.58,1.62],[0.60,1.55],[0.62,1.48],[0.64,1.42],[0.67,1.35],[0.70,1.28],[0.73,1.22],[0.77,1.16],[0.81,1.10],[0.85,1.05],[0.90,1.00],[0.95,0.96],[1.00,0.92],[1.05,0.89],[1.10,0.86],[1.15,0.83],[1.20,0.80],[1.25,0.77],[1.30,0.73],[1.35,0.70],[1.40,0.67],[1.47,0.64],[1.00,0.98],[1.08,0.92],[1.12,0.80],[1.18,0.76],[1.25,0.72],[1.30,0.80],[1.03,1.72],[1.09,1.52],[1.30,1.37],[1.07,1.11],[1.20,1.54],[1.00,1.37],[1.15,1.25],[1.35,1.00],[1.40,0.92],[1.22,0.95]];
const cloud_B13=[[0.47,1.99],[0.69,1.98],[0.54,1.83],[0.64,1.90],[0.71,1.66],[0.61,1.60],[0.78,1.60],[0.67,1.49],[0.57,1.43],[0.74,1.43],[0.80,1.31],[0.87,1.22],[0.90,1.11],[0.94,1.05],[1.04,1.54],[1.21,1.80],[1.29,1.17],[1.19,1.02],[1.34,0.88],[1.24,1.00],[0.76,1.48],[0.60,1.46],[0.90,1.37],[1.00,0.94],[1.05,0.91],[1.10,0.88],[1.15,0.85],[1.20,0.82],[1.25,0.80],[1.30,0.77],[1.35,0.74],[1.40,0.71],[1.45,0.68],[1.50,0.65],[1.55,0.62],[1.60,0.60],[1.65,0.57],[1.70,0.54],[1.75,0.51],[1.80,0.48],[1.85,0.45],[1.90,0.42],[1.95,0.39],[2.00,0.37],[2.05,0.34],[2.10,0.31],[2.15,0.28],[2.20,0.25],[2.25,0.22],[2.30,0.19],[2.35,0.17],[2.40,0.14],[2.45,0.11],[2.50,0.08],[2.55,0.05],[2.60,0.02],[2.65,0.00],[1.08,0.84],[1.18,0.78],[1.28,0.72],[1.38,0.67],[1.48,0.61],[1.58,0.55],[1.68,0.50],[1.78,0.44],[1.88,0.38],[1.98,0.33],[2.08,0.27],[2.18,0.22],[2.28,0.16],[2.38,0.10],[2.48,0.06],[1.03,0.98],[1.10,0.95],[1.20,0.90],[1.40,0.80]];

// table built from the arrays above
const table={
  "ASPIC 2":{B:[b25_A2,b50_A2,b75_A2],F:[f25_A2,f50_A2,f75_A2],cloud:cloud_A2},
  "ASPIC 7":{B:[b25_A7,b50_A7,b75_A7],F:[f25_A7,f50_A7,f75_A7],cloud:cloud_A7},
  "ASPIC 6":{B:[b25_A6,b50_A6,b75_A6],F:[f25_A6,f50_A6,f75_A6],cloud:cloud_A6},
  "ASPIC 8":{B:[b25_A8,b50_A8,b75_A8],F:[f25_A8,f50_A8,f75_A8],cloud:cloud_A8},
  "BSP 1":{B:[b25_B1,b50_B1,b75_B1],F:[f25_B1,f50_B1,f75_B1],cloud:cloud_B1},
  "BSP 4":{B:[b25_B4,b50_B4,b75_B4],F:[f25_B4,f50_B4,f75_B4],cloud:cloud_B4},
  "BSP 12":{B:[b25_B12,b50_B12,b75_B12],F:[f25_B12,f50_B12,f75_B12],cloud:cloud_B12},
  "BSP 13":{B:[b25_B13,b50_B13,b75_B13],F:[f25_B13,f50_B13,f75_B13],cloud:cloud_B13}
};

// ---------------- DRAWING ----------------
const svg=d3.select("#c");
const RED="#c22a2d", BLUE="#282e7a", GRID_TXT="#6b6b6b";
const yearColor=d3.scaleLinear().domain([1955,1982,2010]).range(["#27407f","#2a1c3c","#8c1d2a"]).interpolate(d3.interpolateRgb);

function styleAxis(g,fs){
  g.select(".domain").remove();
  g.selectAll(".tick line").attr("stroke","#8a8a8a").attr("stroke-width",0.7);
  g.selectAll(".tick text").attr("fill",GRID_TXT).attr("font-size",fs).attr("font-family","Liberation Sans, Arial, sans-serif");
}

// ---- top faceted time series ----
const tW=133.5,tH=106;
const tx=d3.scaleLinear().domain([1944.9,2014.5]).range([0,tW]);
const ty=d3.scaleLinear().domain([-0.15,3.17]).range([tH,0]);
const topLeft=i=>33+i*135.5, topTop=r=>[16,134][r];

panelNames.forEach((name,k)=>{
  const c=k%4,r=Math.floor(k/4);
  const g=svg.append("g").attr("transform",`translate(${topLeft(c)},${topTop(r)})`);
  g.append("rect").attr("width",tW).attr("height",tH).attr("fill","#fff").attr("stroke","#bcbcbc").attr("stroke-width",1.2);
  svg.append("text").attr("x",topLeft(c)+1).attr("y",topTop(r)-2.5).text(name)
     .attr("font-size",8.6).attr("fill","#5a5a5a");
  const d=table[name];
  [["B",RED],["F",BLUE]].forEach(([key,col])=>{
    d[key].forEach((arr,pi)=>{
      const pts=arr.map((v,i)=>[years[i],v]).filter(p=>p[0]!==undefined);
      const line=d3.line().x(p=>tx(p[0])).y(p=>ty(p[1]));
      g.append("path").attr("d",line(pts)).attr("fill","none").attr("stroke",col)
        .attr("stroke-width",pi===1?1.5:1.05)
        .attr("stroke-dasharray",pi===1?null:"2.2,1.4");
    });
  });
  if(c===0){
    const ax=g.append("g").call(d3.axisLeft(ty).tickValues(topYTicks).tickSize(3).tickPadding(2).tickFormat(v=>v===0?"0":d3.format(".1f")(v)));
    styleAxis(ax,9);
  }
  if(r===1){
    const ax=g.append("g").attr("transform",`translate(0,${tH})`).call(d3.axisBottom(tx).tickValues(topXTicks).tickSize(3).tickPadding(2).tickFormat(d3.format("d")));
    styleAxis(ax,9);
  }
});
svg.append("text").attr("x",297).attr("y",259.5).attr("text-anchor","middle").attr("font-size",8.6).attr("fill",GRID_TXT).text("Year");
svg.append("text").attr("transform","translate(16.5,128.5) rotate(-90)").attr("text-anchor","middle").attr("font-size",8.4).attr("fill",GRID_TXT).text("Relative to Bench mark");

// percentile legend
svg.append("text").attr("x",580).attr("y",114.8).attr("font-size",8.8).attr("fill",GRID_TXT).text("Percentile");
percentiles.forEach((p,i)=>{
  const y=[122.5,133.5,145][i];
  svg.append("line").attr("x1",580).attr("x2",588).attr("y1",y).attr("y2",y)
    .attr("stroke","#a3262b").attr("stroke-width",1.1).attr("stroke-dasharray",i===1?null:"2.2,1.4");
  svg.append("text").attr("x",593).attr("y",y+3.2).attr("font-size",8.8).attr("fill",GRID_TXT).text(p);
});

// ---- bottom Kobe plots ----
const bW=133,bH=127;
const bx=d3.scaleLinear().domain([0.07,2.75]).range([0,bW]);
const by=d3.scaleLinear().domain([-0.095,2.11]).range([bH,0]);
const botLeft=i=>41+i*134.7, botTop=r=>[304.3,442.3][r];
const QRED="#c3171f",QYEL="#f1e623",QGRN="#41ad3a";

panelNames.forEach((name,k)=>{
  const c=k%4,r=Math.floor(k/4);
  const g=svg.append("g").attr("transform",`translate(${botLeft(c)},${botTop(r)})`);
  const x1=bx(1),y1=by(1);
  g.append("rect").attr("x",0).attr("y",0).attr("width",x1).attr("height",y1).attr("fill",QRED);
  g.append("rect").attr("x",x1).attr("y",0).attr("width",bW-x1).attr("height",y1).attr("fill",QYEL);
  g.append("rect").attr("x",0).attr("y",y1).attr("width",x1).attr("height",bH-y1).attr("fill",QYEL);
  g.append("rect").attr("x",x1).attr("y",y1).attr("width",bW-x1).attr("height",bH-y1).attr("fill",QGRN);
  svg.append("text").attr("x",botLeft(c)+1).attr("y",botTop(r)-2.5).text(name).attr("font-size",8.6).attr("fill","#5a5a5a");
  const d=table[name];
  g.selectAll("circle.pt").data(d.cloud).join("circle").attr("class","pt")
    .attr("cx",p=>bx(p[0])).attr("cy",p=>by(p[1])).attr("r",1.5).attr("fill","#1f3b7c");
  const B=d.B[1],F=d.F[1];
  const n=Math.min(B.length,F.length,years.length);
  for(let i=0;i<n-1;i++){
    g.append("line").attr("x1",bx(B[i])).attr("y1",by(F[i])).attr("x2",bx(B[i+1])).attr("y2",by(F[i+1]))
      .attr("stroke",yearColor(years[i])).attr("stroke-width",1.5).attr("stroke-linecap","round");
  }
  g.append("circle").attr("cx",bx(B[0])).attr("cy",by(F[0])).attr("r",2.3).attr("fill","#f3b8c6");
  if(c===0){
    const ax=g.append("g").call(d3.axisLeft(by).tickValues(botYTicks).tickSize(3).tickPadding(2).tickFormat(d3.format(".1f")));
    styleAxis(ax,8.3);
  }
  if(r===1){
    const ax=g.append("g").attr("transform",`translate(0,${bH})`).call(d3.axisBottom(bx).tickValues(botXTicks).tickSize(3).tickPadding(1).tickFormat(d3.format(".1f")));
    styleAxis(ax,8.3);
  }
});

// axis titles with subscripts
const yt=svg.append("text").attr("transform","translate(21,442) rotate(-90)").attr("text-anchor","middle").attr("font-size",16).attr("fill","#111");
yt.append("tspan").text("F / F");
yt.append("tspan").attr("font-size",10.5).attr("dy",3.5).text("MSY");
const xt=svg.append("text").attr("x",306).attr("y",595.5).attr("text-anchor","middle").attr("font-size",15).attr("fill","#111");
xt.append("tspan").text("Biomass / B");
xt.append("tspan").attr("font-size",10).attr("dy",2.5).text("MSY");

// year legend
svg.append("text").attr("x",584).attr("y",406.5).attr("font-size",8.6).attr("fill",GRID_TXT).text("year");
legendYears.forEach((yr,i)=>{
  const y=413.5+i*11.2;
  svg.append("line").attr("x1",585).attr("x2",592).attr("y1",y).attr("y2",y).attr("stroke",yearColor(yr)).attr("stroke-width",1.8);
  svg.append("text").attr("x",597).attr("y",y+3).attr("font-size",8.6).attr("fill",GRID_TXT).text(yr);
});
</script></body></html>
